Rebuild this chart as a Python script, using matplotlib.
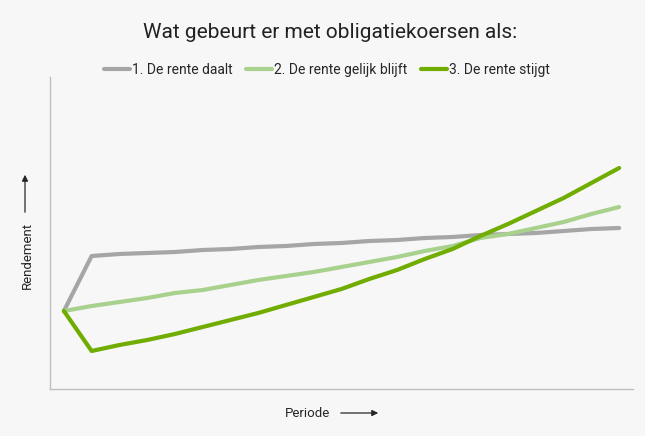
import matplotlib
matplotlib.use("Agg")
import matplotlib.pyplot as plt
import numpy as np

plt.rcParams['font.family'] = ['Roboto', 'DejaVu Sans']

# periods (no labels on the axis)
periods = list(range(21))

# rendement values (arbitrary units)
rente_daalt = [78, 133, 135, 136, 137, 139, 140, 142, 143, 145, 146,
               148, 149, 151, 152, 154, 155, 156, 158, 160, 161]
rente_gelijk = [78, 83, 87, 91, 96, 99, 104, 109, 113, 117, 122,
                127, 132, 138, 143, 151, 155, 161, 167, 175, 182]
rente_stijgt = [78, 38, 44, 49, 55, 62, 69, 76, 84, 92, 100,
                110, 119, 130, 140, 153, 165, 178, 191, 206, 221]

labels = ['1. De rente daalt', '2. De rente gelijk blijft', '3. De rente stijgt']
colors = ['#a6a6a6', '#a9d18e', '#70ad00']

bg = '#f7f7f7'
fig = plt.figure(figsize=(6.45, 4.36), dpi=100, facecolor=bg)
ax = fig.add_axes([50 / 645, 47 / 436, 583 / 645, 312 / 436], facecolor=bg)

for vals, lab, col in zip([rente_daalt, rente_gelijk, rente_stijgt], labels, colors):
    ax.plot(periods, vals, color=col, lw=3, label=lab, solid_capstyle='round')

ax.set_xlim(-0.5, 20.5)
ax.set_ylim(0, 312)
ax.set_xticks([])
ax.set_yticks([])
for s in ['top', 'right']:
    ax.spines[s].set_visible(False)
for s in ['left', 'bottom']:
    ax.spines[s].set_color('#bfbfbf')
    ax.spines[s].set_linewidth(1)

fig.text(330 / 645, 1 - 32 / 436, 'Wat gebeurt er met obligatiekoersen als:',
         ha='center', va='center', fontsize=15, color='#222222')

fig.legend(loc='center', bbox_to_anchor=(327 / 645, 1 - 70 / 436), ncol=3, frameon=False,
           fontsize=10, handlelength=1.85, handletextpad=0.15, columnspacing=1.0,
           labelcolor='#262626')

# axis titles with arrows
fig.text(27 / 645, 1 - 255 / 436, 'Rendement', rotation=90, ha='center', va='center',
         fontsize=9.5, color='#262626')
fig.text(307 / 645, 1 - 413 / 436, 'Periode', ha='center', va='center',
         fontsize=9.5, color='#262626')
arrow = dict(arrowstyle='-|>', color='#262626', lw=0.9, mutation_scale=9)
fig.add_artist(matplotlib.patches.FancyArrowPatch(
    (25 / 645, 1 - 215 / 436), (25 / 645, 1 - 172 / 436),
    transform=fig.transFigure, **arrow))
fig.add_artist(matplotlib.patches.FancyArrowPatch(
    (338 / 645, 1 - 413 / 436), (381 / 645, 1 - 413 / 436),
    transform=fig.transFigure, **arrow))

fig.savefig('out.png', dpi=100, facecolor=bg)
